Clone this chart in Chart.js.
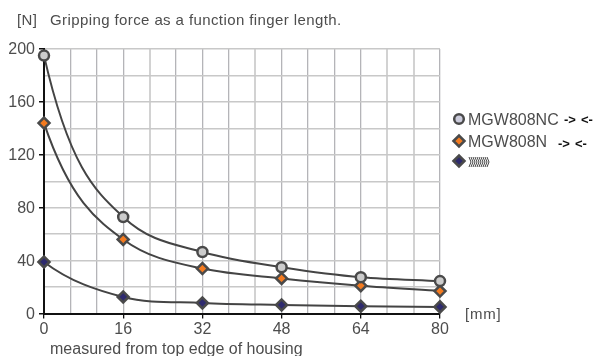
<!DOCTYPE html>
<html>
<head>
<meta charset="utf-8">
<style>
html, body { margin: 0; padding: 0; background: #fff; }
#wrap { position: relative; width: 605px; height: 356px; }
</style>
<script src="https://cdn.jsdelivr.net/npm/chart.js@4"></script>
</head>
<body>
<div id="wrap"><canvas id="chart" width="605" height="356"></canvas></div>
<script>
const positions = [0, 16, 32, 48, 64, 80];
const xGrid = [0, 16/3, 32/3, 16, 64/3, 80/3, 32, 112/3, 128/3, 48, 160/3, 176/3, 64, 208/3, 224/3, 80];
const yLabels = [0, 40, 80, 120, 160, 200];
const nc = [195, 73, 46.5, 35, 27.5, 24.5];
const n = [144, 56, 34, 26.5, 21, 17];
const spring = [39, 12.5, 8, 6.5, 5.5, 5];

const textColor = '#4d4d4d';
const font = 'Liberation Sans, Arial, sans-serif';
const lightLines = [4, 8, 13, 14];

const series = (label, data, pointStyle, fill, radius, curveBlend) => ({
    label,
    data: positions.map((x, i) => ({x, y: data[i]})),
    borderColor: '#444',
    borderWidth: 2,
    cubicInterpolationMode: 'monotone',
    pointStyle,
    pointRadius: radius,
    pointBackgroundColor: fill,
    pointBorderColor: '#4a4a4a',
    pointBorderWidth: 2.5,
    clip: false,
    curveBlend
});

// the curves decay like 1/x, monotone splines go S shaped on that.
// tangent = mean of neighbouring secants (curveBlend 0 geometric, 1 arithmetic)
const decayCurve = {
    id: 'decayCurve',
    beforeDatasetDraw(chart, args) {
        const meta = args.meta, pts = meta.data;
        const blend = chart.data.datasets[args.index].curveBlend;
        meta.dataset.updateControlPoints(chart.chartArea);
        const sec = [];
        for (let i = 0; i < pts.length - 1; i++) {
            sec.push((pts[i + 1].y - pts[i].y) / (pts[i + 1].x - pts[i].x));
        }
        const m = [];
        for (let i = 1; i < pts.length - 1; i++) {
            m[i] = (1 - blend) * Math.sqrt(sec[i - 1] * sec[i]) + blend * (sec[i - 1] + sec[i]) / 2;
        }
        m[0] = sec[0] * sec[0] / m[1];
        m[pts.length - 1] = sec[sec.length - 1];
        pts.forEach((p, i) => {
            const back = i > 0 ? (p.x - pts[i - 1].x) / 3 : 0;
            const fwd = i < pts.length - 1 ? (pts[i + 1].x - p.x) / 3 : 0;
            p.cp1x = p.x - back;
            p.cp1y = p.y - back * m[i];
            p.cp2x = p.x + fwd;
            p.cp2y = p.y + fwd * m[i];
        });
    }
};

function marker(ctx, style, x, y, fill, r) {
    ctx.save();
    ctx.fillStyle = fill;
    ctx.strokeStyle = '#4a4a4a';
    ctx.lineWidth = 2.5;
    ctx.beginPath();
    if (style === 'circle') {
        ctx.arc(x, y, r, 0, Math.PI * 2);
    } else {
        ctx.moveTo(x - r, y);
        ctx.lineTo(x, y - r);
        ctx.lineTo(x + r, y);
        ctx.lineTo(x, y + r);
        ctx.closePath();
    }
    ctx.fill();
    ctx.stroke();
    ctx.restore();
}

// little "-> <-" arrows next to the legend names
function arrows(ctx, x, y) {
    ctx.save();
    ctx.fillStyle = '#111';
    ctx.font = 'bold 13px ' + font;
    ctx.textBaseline = 'middle';
    ctx.fillText('->', x, y);
    ctx.fillText('<-', x + 17, y);
    ctx.restore();
}

function springIcon(ctx, x, y) {
    ctx.save();
    ctx.strokeStyle = '#444';
    ctx.lineWidth = 1;
    ctx.beginPath();
    for (let i = 0; i < 10; i++) {
        ctx.moveTo(x + i * 2, y - 5);
        ctx.lineTo(x + i * 2 + 2, y);
        ctx.lineTo(x + i * 2, y + 5);
    }
    ctx.stroke();
    ctx.restore();
}

const textPlugin = {
    id: 'textPlugin',
    afterDraw(chart) {
        const ctx = chart.ctx;
        ctx.save();
        ctx.fillStyle = textColor;
        ctx.textBaseline = 'alphabetic';
        ctx.font = '15px ' + font;
        ctx.letterSpacing = '0.4px';
        ctx.fillText('[N]', 17, 25);
        ctx.fillText('Gripping force as a function finger length.', 50, 25);
        ctx.letterSpacing = '0.8px';
        ctx.fillText('[mm]', 465, 319);
        ctx.letterSpacing = '0px';
        ctx.font = '16px ' + font;
        ctx.fillText('measured from top edge of housing', 50, 354);
        ctx.fillText('MGW808NC', 468, 125);
        ctx.fillText('MGW808N', 468, 147);
        ctx.restore();

        marker(ctx, 'circle', 459, 119, '#ccccdc', 4.8);
        marker(ctx, 'rectRot', 459, 141, '#f47b20', 5.5);
        marker(ctx, 'rectRot', 459, 161, '#2e2a6e', 5.5);
        arrows(ctx, 564, 120);
        arrows(ctx, 558, 144);
        springIcon(ctx, 469, 162);
    }
};

new Chart(document.getElementById('chart'), {
    type: 'line',
    data: {
        datasets: [
            series('MGW808NC', nc, 'circle', '#cccccc', 5, 0),
            series('MGW808N', n, 'rectRot', '#f47b20', 5.5, 0),
            series('spring', spring, 'rectRot', '#2e2a6e', 5.5, 1)
        ]
    },
    options: {
        responsive: false,
        animation: false,
        layout: { padding: { top: 49, right: 165, left: 0, bottom: 0 } },
        plugins: { legend: { display: false }, tooltip: { enabled: false } },
        scales: {
            x: {
                type: 'linear',
                min: 0,
                max: 80,
                afterFit: (axis) => { axis.height = 42.5; },
                afterBuildTicks: (axis) => { axis.ticks = xGrid.map(value => ({value})); },
                border: { color: '#111', width: 2 },
                grid: {
                    color: (c) => lightLines.includes(c.index) ? '#d2d2d2' : '#b4b4b8',
                    lineWidth: (c) => lightLines.includes(c.index) ? 2 : 1.3,
                    tickLength: 5,
                    tickColor: (c) => positions.includes(Math.round(c.tick.value * 1000) / 1000) ? '#111' : 'rgba(0,0,0,0)'
                },
                ticks: {
                    autoSkip: false,
                    maxRotation: 0,
                    padding: 1,
                    color: textColor,
                    font: { family: font, size: 16 },
                    callback: (v) => positions.includes(Math.round(v * 1000) / 1000) ? String(Math.round(v)) : ''
                }
            },
            y: {
                min: 0,
                max: 200,
                afterFit: (axis) => { axis.width = 44; },
                border: { color: '#111', width: 2 },
                grid: {
                    color: '#c8c8c8',
                    lineWidth: 1.5,
                    tickLength: 5,
                    tickColor: (c) => yLabels.includes(c.tick.value) ? '#111' : 'rgba(0,0,0,0)'
                },
                ticks: {
                    stepSize: 20,
                    padding: 4,
                    labelOffset: 1,
                    color: textColor,
                    font: { family: font, size: 16 },
                    callback: (v) => yLabels.includes(v) ? String(v) : ''
                }
            }
        }
    },
    plugins: [textPlugin, decayCurve]
});
</script>
</body>
</html>
